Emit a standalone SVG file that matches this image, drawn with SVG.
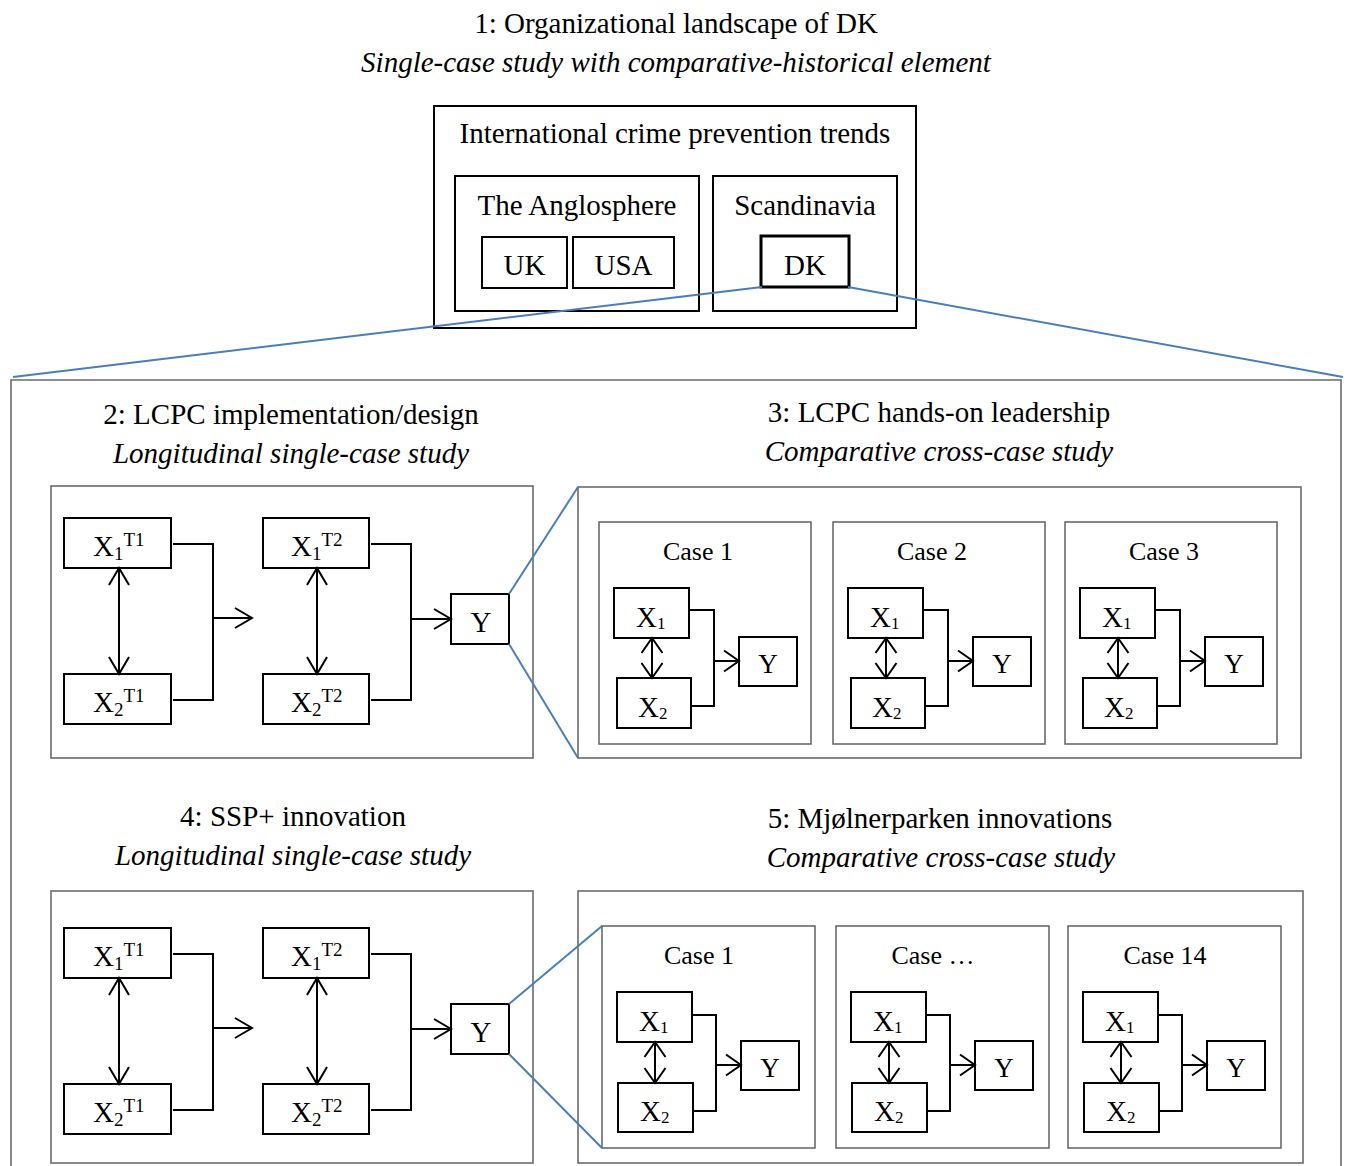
<svg xmlns="http://www.w3.org/2000/svg" width="1348" height="1166" viewBox="0 0 1348 1166">
<style>
text{font-family:"Liberation Serif","Times New Roman",serif;fill:#000}
.h{font-size:29px}
.hi{font-size:29px;font-style:italic}
.mid{text-anchor:middle}
.lbl{font-size:26px;text-anchor:middle}
.bx{fill:none;stroke:#000;stroke-width:2}
.sec{fill:none;stroke:#6b6b6b;stroke-width:1.6}
.wire{fill:none;stroke:#000;stroke-width:2}
.blue{fill:none;stroke:#4a7ebb;stroke-width:2}
.xs{font-size:29px}
.xc{font-size:29px}
.yc{font-size:27px;text-anchor:middle}
</style>
<defs>
<marker id="ab" viewBox="0 0 20 22" refX="18" refY="11" markerWidth="20" markerHeight="22" markerUnits="userSpaceOnUse" orient="auto-start-reverse">
<path d="M1,1 L18,11 L1,21" fill="none" stroke="#000" stroke-width="2"/>
</marker>
<marker id="as" viewBox="0 0 18 24" refX="16" refY="12" markerWidth="18" markerHeight="24" markerUnits="userSpaceOnUse" orient="auto-start-reverse">
<path d="M1,1.5 L16,12 L1,22.5" fill="none" stroke="#000" stroke-width="2"/>
</marker>
</defs>
<rect width="1348" height="1166" fill="#fff"/>

<g id="titles">
<text class="h mid" x="676" y="33">1: Organizational landscape of DK</text>
<text class="hi mid" x="676" y="72">Single-case study with comparative-historical element</text>
<text class="h mid" x="291" y="424">2: LCPC implementation/design</text>
<text class="hi mid" x="291" y="463">Longitudinal single-case study</text>
<text class="h mid" x="939" y="422">3: LCPC hands-on leadership</text>
<text class="hi mid" x="939" y="461">Comparative cross-case study</text>
<text class="h mid" x="293" y="826">4: SSP+ innovation</text>
<text class="hi mid" x="293" y="865">Longitudinal single-case study</text>
<text class="h mid" x="940" y="828">5: Mjølnerparken innovations</text>
<text class="hi mid" x="941" y="867">Comparative cross-case study</text>
</g>

<g id="landscape">
<rect class="bx" x="434" y="106" width="482" height="222"/>
<text class="h mid" x="675" y="143">International crime prevention trends</text>
</g>
<g id="anglosphere">
<rect class="bx" x="455" y="176" width="244" height="135"/>
<text class="h mid" x="577" y="215">The Anglosphere</text>
</g>
<g id="scandinavia">
<rect class="bx" x="713" y="176" width="184" height="135"/>
<text class="h mid" x="805" y="215">Scandinavia</text>
</g>
<g id="uk"><rect class="bx" x="482" y="237" width="85" height="51"/><text class="h mid" x="524.5" y="275">UK</text></g>
<g id="usa"><rect class="bx" x="573" y="237" width="101" height="51"/><text class="h mid" x="623.5" y="275">USA</text></g>
<g id="dk"><rect fill="none" stroke="#000" stroke-width="3" x="761" y="236" width="88" height="51"/><text class="h mid" x="805" y="275">DK</text></g>

<g id="frame"><path class="sec" d="M11,1170 V380 H1341 V1170"/></g>

<g id="sec2"><rect class="sec" x="51" y="486" width="482" height="272"/></g>
<g id="sec3"><rect class="sec" x="578" y="487" width="723" height="271"/></g>
<g id="sec4"><rect class="sec" x="51" y="891" width="482" height="272"/></g>
<g id="sec5"><rect class="sec" x="578" y="891" width="725" height="272"/></g>

<!-- section 2 nodes -->
<g id="s2-x1t1"><rect class="bx" x="64" y="518" width="107" height="50"/><text class="xs" x="93" y="556">X<tspan font-size="19" dy="4">1</tspan><tspan font-size="19" dy="-14">T1</tspan></text></g>
<g id="s2-x2t1"><rect class="bx" x="64" y="674" width="107" height="50"/><text class="xs" x="93" y="712">X<tspan font-size="19" dy="4">2</tspan><tspan font-size="19" dy="-14">T1</tspan></text></g>
<g id="s2-x1t2"><rect class="bx" x="263" y="518" width="106" height="50"/><text class="xs" x="291" y="556">X<tspan font-size="19" dy="4">1</tspan><tspan font-size="19" dy="-14">T2</tspan></text></g>
<g id="s2-x2t2"><rect class="bx" x="263" y="674" width="106" height="50"/><text class="xs" x="291" y="712">X<tspan font-size="19" dy="4">2</tspan><tspan font-size="19" dy="-14">T2</tspan></text></g>
<g id="s2-y"><rect class="bx" x="451" y="594" width="58" height="50"/><text class="xs mid" x="481" y="632">Y</text></g>

<!-- section 4 nodes -->
<g id="s4-x1t1"><rect class="bx" x="64" y="928" width="107" height="50"/><text class="xs" x="93" y="966">X<tspan font-size="19" dy="4">1</tspan><tspan font-size="19" dy="-14">T1</tspan></text></g>
<g id="s4-x2t1"><rect class="bx" x="64" y="1084" width="107" height="50"/><text class="xs" x="93" y="1122">X<tspan font-size="19" dy="4">2</tspan><tspan font-size="19" dy="-14">T1</tspan></text></g>
<g id="s4-x1t2"><rect class="bx" x="263" y="928" width="106" height="50"/><text class="xs" x="291" y="966">X<tspan font-size="19" dy="4">1</tspan><tspan font-size="19" dy="-14">T2</tspan></text></g>
<g id="s4-x2t2"><rect class="bx" x="263" y="1084" width="106" height="50"/><text class="xs" x="291" y="1122">X<tspan font-size="19" dy="4">2</tspan><tspan font-size="19" dy="-14">T2</tspan></text></g>
<g id="s4-y"><rect class="bx" x="451" y="1004" width="58" height="50"/><text class="xs mid" x="481" y="1042">Y</text></g>

<!-- section 3 cases -->
<g id="s3-case1" transform="translate(599,522)">
<rect class="sec" x="0" y="0" width="212" height="222"/>
<text class="lbl" x="99" y="38">Case 1</text>
<rect class="bx" x="15" y="66" width="75" height="50"/><text class="xc" x="37" y="105">X<tspan font-size="17" dy="2">1</tspan></text>
<rect class="bx" x="18" y="156" width="74" height="50"/><text class="xc" x="39" y="195">X<tspan font-size="17" dy="2">2</tspan></text>
<rect class="bx" x="140" y="115" width="58" height="49"/><text class="yc" x="169" y="151">Y</text>
</g>
<g id="s3-case2" transform="translate(833,522)">
<rect class="sec" x="0" y="0" width="212" height="222"/>
<text class="lbl" x="99" y="38">Case 2</text>
<rect class="bx" x="15" y="66" width="75" height="50"/><text class="xc" x="37" y="105">X<tspan font-size="17" dy="2">1</tspan></text>
<rect class="bx" x="18" y="156" width="74" height="50"/><text class="xc" x="39" y="195">X<tspan font-size="17" dy="2">2</tspan></text>
<rect class="bx" x="140" y="115" width="58" height="49"/><text class="yc" x="169" y="151">Y</text>
</g>
<g id="s3-case3" transform="translate(1065,522)">
<rect class="sec" x="0" y="0" width="212" height="222"/>
<text class="lbl" x="99" y="38">Case 3</text>
<rect class="bx" x="15" y="66" width="75" height="50"/><text class="xc" x="37" y="105">X<tspan font-size="17" dy="2">1</tspan></text>
<rect class="bx" x="18" y="156" width="74" height="50"/><text class="xc" x="39" y="195">X<tspan font-size="17" dy="2">2</tspan></text>
<rect class="bx" x="140" y="115" width="58" height="49"/><text class="yc" x="169" y="151">Y</text>
</g>

<!-- section 5 cases -->
<g id="s5-case1" transform="translate(602,926)">
<rect class="sec" x="0" y="0" width="213" height="222"/>
<text class="lbl" x="97" y="38">Case 1</text>
<rect class="bx" x="15" y="66" width="75" height="50"/><text class="xc" x="37" y="105">X<tspan font-size="17" dy="2">1</tspan></text>
<rect class="bx" x="16" y="157" width="75" height="49"/><text class="xc" x="38" y="195">X<tspan font-size="17" dy="2">2</tspan></text>
<rect class="bx" x="139" y="115" width="58" height="49"/><text class="yc" x="168" y="151">Y</text>
</g>
<g id="s5-case2" transform="translate(836,926)">
<rect class="sec" x="0" y="0" width="213" height="222"/>
<text class="lbl" x="97" y="38">Case …</text>
<rect class="bx" x="15" y="66" width="75" height="50"/><text class="xc" x="37" y="105">X<tspan font-size="17" dy="2">1</tspan></text>
<rect class="bx" x="16" y="157" width="75" height="49"/><text class="xc" x="38" y="195">X<tspan font-size="17" dy="2">2</tspan></text>
<rect class="bx" x="139" y="115" width="58" height="49"/><text class="yc" x="168" y="151">Y</text>
</g>
<g id="s5-case3" transform="translate(1068,926)">
<rect class="sec" x="0" y="0" width="213" height="222"/>
<text class="lbl" x="97" y="38">Case 14</text>
<rect class="bx" x="15" y="66" width="75" height="50"/><text class="xc" x="37" y="105">X<tspan font-size="17" dy="2">1</tspan></text>
<rect class="bx" x="16" y="157" width="75" height="49"/><text class="xc" x="38" y="195">X<tspan font-size="17" dy="2">2</tspan></text>
<rect class="bx" x="139" y="115" width="58" height="49"/><text class="yc" x="168" y="151">Y</text>
</g>

<g id="connectors">
<path class="blue" d="M13,377 L762,287"/>
<path class="blue" d="M848,287 L1343,377"/>
<path class="blue" d="M509,594 L578,487"/>
<path class="blue" d="M509,644 L578,758"/>
<path class="blue" d="M509,1004 L602,926"/>
<path class="blue" d="M509,1054 L602,1148"/>
<path class="wire" d="M173,544 H213 V700 H173"/>
<path class="wire" d="M213,618 H252" marker-end="url(#ab)"/>
<path class="wire" d="M371,544 H411 V700 H371"/>
<path class="wire" d="M411,619 H451" marker-end="url(#ab)"/>
<path class="wire" d="M119,568 V674" marker-start="url(#ab)" marker-end="url(#ab)"/>
<path class="wire" d="M317,568 V674" marker-start="url(#ab)" marker-end="url(#ab)"/>
<path class="wire" d="M173,954 H213 V1110 H173"/>
<path class="wire" d="M213,1028 H252" marker-end="url(#ab)"/>
<path class="wire" d="M371,954 H411 V1110 H371"/>
<path class="wire" d="M411,1029 H451" marker-end="url(#ab)"/>
<path class="wire" d="M119,978 V1084" marker-start="url(#ab)" marker-end="url(#ab)"/>
<path class="wire" d="M317,978 V1084" marker-start="url(#ab)" marker-end="url(#ab)"/>
<g transform="translate(599,522)">
<path class="wire" d="M90,88 H115 V184 H92"/>
<path class="wire" d="M115,139 H140" marker-end="url(#as)"/>
<path class="wire" d="M53,116 V156" marker-start="url(#as)" marker-end="url(#as)"/>
</g>
<g transform="translate(833,522)">
<path class="wire" d="M90,88 H115 V184 H92"/>
<path class="wire" d="M115,139 H140" marker-end="url(#as)"/>
<path class="wire" d="M53,116 V156" marker-start="url(#as)" marker-end="url(#as)"/>
</g>
<g transform="translate(1065,522)">
<path class="wire" d="M90,88 H115 V184 H92"/>
<path class="wire" d="M115,139 H140" marker-end="url(#as)"/>
<path class="wire" d="M53,116 V156" marker-start="url(#as)" marker-end="url(#as)"/>
</g>
<g transform="translate(602,926)">
<path class="wire" d="M90,89 H114 V185 H91"/>
<path class="wire" d="M114,139 H139" marker-end="url(#as)"/>
<path class="wire" d="M53,116 V157" marker-start="url(#as)" marker-end="url(#as)"/>
</g>
<g transform="translate(836,926)">
<path class="wire" d="M90,89 H114 V185 H91"/>
<path class="wire" d="M114,139 H139" marker-end="url(#as)"/>
<path class="wire" d="M53,116 V157" marker-start="url(#as)" marker-end="url(#as)"/>
</g>
<g transform="translate(1068,926)">
<path class="wire" d="M90,89 H114 V185 H91"/>
<path class="wire" d="M114,139 H139" marker-end="url(#as)"/>
<path class="wire" d="M53,116 V157" marker-start="url(#as)" marker-end="url(#as)"/>
</g>
</g>
</svg>
